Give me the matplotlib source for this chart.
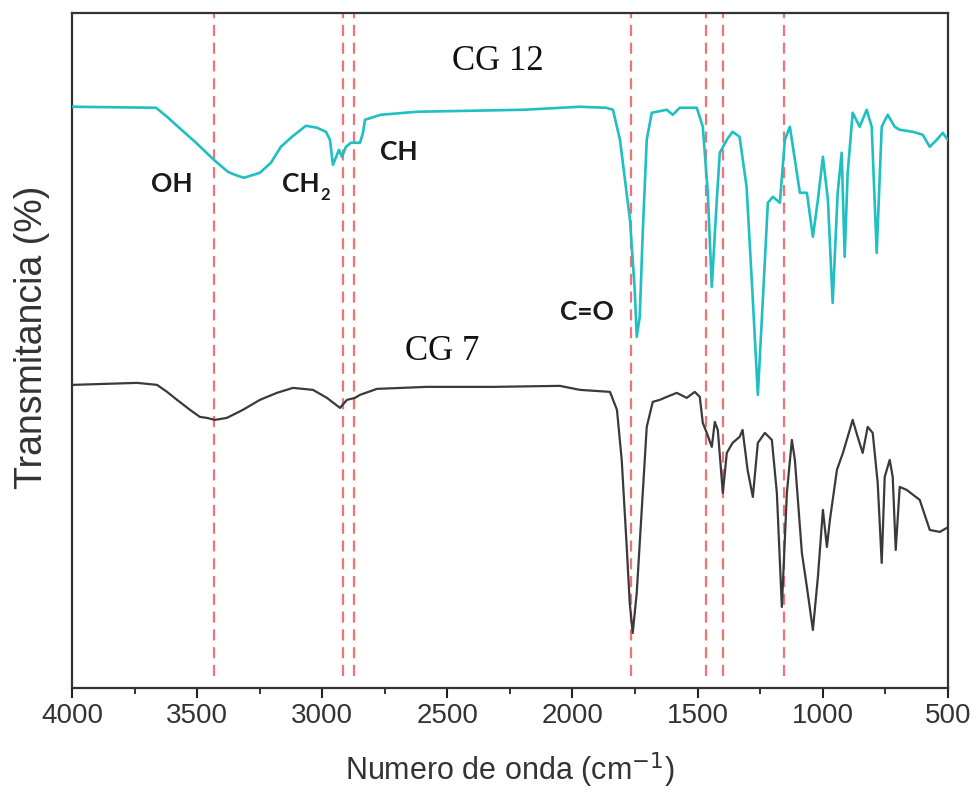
import matplotlib
matplotlib.use("Agg")
import matplotlib.pyplot as plt

# FTIR spectra, transmittance in arbitrary units (no y scale in the source)
cg12_wn = [3996, 3664, 3620, 3576, 3504, 3433, 3377, 3349, 3313, 3249, 3205, 3165,
           3121, 3065, 3021, 2985, 2969, 2957, 2933, 2921, 2905, 2885, 2849, 2837,
           2829, 2765, 2621, 2194, 1970, 1866, 1838, 1810, 1770, 1751, 1743, 1731,
           1719, 1703, 1683, 1623, 1599, 1571, 1503, 1479, 1459, 1443, 1423, 1411,
           1383, 1360, 1332, 1304, 1279, 1259, 1239, 1219, 1199, 1171, 1151, 1131,
           1111, 1091, 1063, 1039, 1019, 999, 979, 960, 940, 924, 912, 900,
           880, 852, 824, 804, 784, 764, 740, 712, 692, 640, 600, 572,
           544, 520, 500]
cg12_t = [581, 580, 571, 561, 545, 528, 516, 513, 510, 515, 525, 541,
          551, 562, 560, 556, 548, 523, 538, 531, 541, 545, 545, 555,
          568, 573, 576, 578, 581, 580, 578, 548, 468, 398, 351, 371,
          455, 548, 575, 578, 573, 580, 580, 561, 495, 401, 488, 535,
          548, 556, 551, 501, 388, 293, 388, 485, 491, 485, 548, 561,
          528, 495, 495, 451, 488, 531, 488, 385, 495, 535, 431, 515,
          575, 561, 578, 561, 435, 561, 573, 561, 558, 556, 553, 541,
          548, 555, 548]

cg7_wn = [3996, 3740, 3660, 3620, 3580, 3528, 3489, 3461, 3429, 3381, 3317, 3249,
          3181, 3117, 3037, 2981, 2929, 2901, 2869, 2849, 2781, 2582, 2318, 2050,
          1970, 1850, 1822, 1803, 1783, 1771, 1759, 1743, 1723, 1703, 1679, 1651,
          1623, 1583, 1543, 1511, 1491, 1479, 1463, 1443, 1431, 1419, 1399, 1383,
          1360, 1332, 1320, 1300, 1279, 1259, 1231, 1203, 1183, 1163, 1143, 1123,
          1111, 1083, 1063, 1039, 1019, 999, 983, 971, 943, 919, 900, 880,
          860, 840, 820, 800, 780, 764, 752, 732, 720, 708, 692, 664,
          612, 572, 532, 504]
cg7_t = [303, 305, 303, 296, 288, 278, 271, 270, 268, 270, 278, 288,
         295, 300, 298, 290, 280, 288, 290, 293, 299, 301, 301, 302,
         298, 296, 278, 228, 141, 85, 55, 95, 178, 261, 286, 288,
         291, 295, 290, 296, 291, 265, 255, 241, 266, 258, 195, 235,
         245, 251, 258, 218, 191, 245, 255, 248, 195, 81, 195, 248,
         228, 135, 101, 58, 111, 178, 141, 168, 218, 235, 251, 268,
         251, 235, 261, 255, 205, 125, 211, 228, 211, 138, 201, 198,
         188, 158, 156, 160]

# band positions marked with dashed lines
band_wn = [3433, 2917, 2873, 1767, 1467, 1399, 1155]

# (label, wavenumber, height)
band_labels = [("OH", 3600, 504), ("CH", 3085, 504), ("CH", 2693, 536), ("C=O", 1942, 376)]
sample_labels = [("CG 12", 2300, 626), ("CG 7", 2520, 336)]

fig = plt.figure(figsize=(9.79, 7.95), dpi=100)
ax = fig.add_axes([0.0735, 0.1346, 0.8946, 0.8494])

for w in band_wn:
    ax.vlines(w, 12, 674, colors="#f0646a", linestyles=(0, (5, 3)), linewidth=1.6, alpha=0.9, zorder=1)

ax.plot(cg12_wn, cg12_t, color="#1fbfc2", linewidth=1.9, zorder=3)
ax.plot(cg7_wn, cg7_t, color="#3a3a3a", linewidth=1.6, zorder=3)

for txt, w, t in band_labels:
    ax.text(w, t, txt, fontsize=19, fontweight="bold", family="Lato",
            ha="center", va="center", color="#1a1a1a", zorder=4)
# subscript of CH2
ax.text(2990, 493, "2", fontsize=12, fontweight="bold", family="Lato",
        ha="center", va="center", color="#1a1a1a", zorder=4)

for txt, w, t in sample_labels:
    ax.text(w, t, txt, fontsize=25, family="Liberation Serif",
            ha="center", va="center", color="#111111")

ax.set_xlim(4000, 500)
ax.set_ylim(0, 675)
ax.set_xticks([4000, 3500, 3000, 2500, 2000, 1500, 1000, 500])
ax.set_xticks([3750, 3250, 2750, 2250, 1750, 1250, 750], minor=True)
ax.set_yticks([])

for lab in ax.get_xticklabels():
    lab.set_family("Liberation Sans")
ax.tick_params(axis="x", which="major", direction="out", length=7, width=1.5,
               labelsize=20, pad=4, colors="#222222", labelcolor="#333333")
ax.tick_params(axis="x", which="minor", direction="out", length=4, width=1.3, colors="#222222")
for s in ax.spines.values():
    s.set_linewidth(1.6)
    s.set_color("#333333")

ax.set_xlabel("Numero de onda (cm$^{-1}$)", fontsize=22, family="Liberation Sans",
              color="#333333", labelpad=15)
ax.set_ylabel("Transmitancia (%)", fontsize=27, family="Liberation Sans",
              color="#333333")
ax.yaxis.set_label_coords(-0.025, 0.52)

fig.savefig("out.png", dpi=100)
